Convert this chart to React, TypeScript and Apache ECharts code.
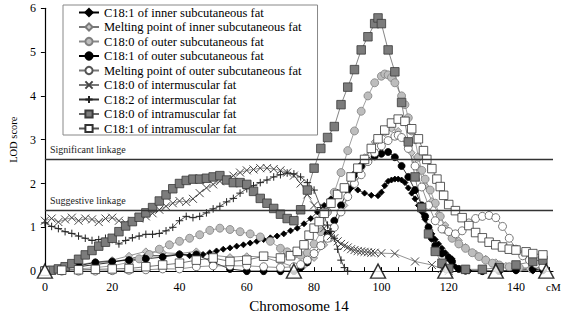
import React, { useEffect, useRef } from "react";
import * as echarts from "echarts";

const FONT = "'Liberation Serif', 'Times New Roman', serif";

// ---- names ----
const seriesNames = [
  "C18:1 of inner subcutaneous fat",
  "Melting point of inner subcutaneous fat",
  "C18:0 of outer subcutaneous fat",
  "C18:1 of outer subcutaneous fat",
  "Melting point of outer subcutaneous fat",
  "C18:0 of intermuscular fat",
  "C18:2 of intermuscular fat",
  "C18:0 of intramuscular fat",
  "C18:1 of intramuscular fat",
];

// ---- thresholds ----
const significantLOD = 2.55;
const suggestiveLOD = 1.39;

// ---- flanking markers (cM) ----
const markerPositions = [0, 74, 99, 119, 134, 149];

// ---- x-axis tick labels ----
const xTickLabels = [0, 20, 40, 60, 80, 100, 120, 140];

// 1. C18:1 inner subcutaneous (black diamonds)
const posInnerC181 = [0, 5, 10, 15, 20, 25, 30, 35, 40, 43, 45, 47, 49, 51, 53, 55, 57, 59, 61, 63, 65, 67, 69, 71, 73, 75, 77, 79, 81, 83, 85, 87, 89, 91, 93, 95, 97, 99, 100, 101, 102, 103, 104, 105, 106, 107, 108, 109, 110, 111, 112, 113, 114, 115, 116, 117, 118, 119, 120, 121, 122, 124, 126, 130, 135, 140, 145, 148];
const lodInnerC181 = [0, 0.05, 0.1, 0.15, 0.2, 0.28, 0.35, 0.35, 0.38, 0.35, 0.32, 0.38, 0.42, 0.46, 0.5, 0.53, 0.57, 0.6, 0.64, 0.68, 0.72, 0.76, 0.8, 0.85, 0.92, 0.98, 1.08, 1.2, 1.35, 1.5, 1.65, 1.8, 1.88, 1.9, 1.85, 1.78, 1.73, 1.72, 1.8, 1.95, 2.05, 2.08, 2.1, 2.1, 2.08, 2.02, 1.9, 1.78, 1.65, 1.5, 1.35, 1.18, 1.0, 0.85, 0.72, 0.62, 0.52, 0.42, 0.34, 0.28, 0.1, 0.02, 0, 0, 0, 0, 0, 0];

// 2. Melting point inner subcutaneous (grey diamonds)
const posInnerMelt = [0, 5, 10, 15, 20, 25, 30, 35, 40, 45, 50, 55, 60, 65, 70, 74, 77, 80, 83, 86, 89, 92, 95, 98, 101, 103, 105, 107, 109, 111, 113, 115, 117, 119, 121, 123, 125, 128, 131, 134, 137, 140, 144, 148];
const lodInnerMelt = [0, 0.08, 0.15, 0.2, 0.25, 0.35, 0.45, 0.42, 0.4, 0.45, 0.36, 0.32, 0.34, 0.32, 0.2, 0.1, 0.12, 0.3, 0.6, 1.0, 1.5, 2.1, 2.6, 2.95, 3.15, 3.25, 3.2, 3.0, 2.7, 2.35, 1.95, 1.6, 1.3, 1.05, 0.85, 0.7, 0.55, 0.4, 0.28, 0.2, 0.12, 0.08, 0.05, 0.03];

// 3. C18:0 outer subcutaneous (grey circles)
const posOuterC180 = [0, 5, 10, 15, 20, 25, 28, 31, 34, 37, 40, 43, 46, 49, 52, 55, 58, 61, 64, 67, 70, 72, 74, 76, 78, 80, 82, 84, 86, 88, 90, 92, 94, 96, 98, 100, 101, 102, 103, 104, 106, 107, 108, 109, 110, 111, 112, 113, 114.5, 116, 117.5, 119, 121, 123, 125, 127, 129, 131, 133, 135, 138, 141, 145, 148];
const lodOuterC180 = [0, 0.02, 0.05, 0.08, 0.12, 0.2, 0.28, 0.38, 0.5, 0.6, 0.68, 0.75, 0.83, 0.93, 0.98, 0.95, 0.9, 0.85, 0.78, 0.68, 0.52, 0.44, 0.38, 0.36, 0.42, 0.62, 0.9, 1.35, 1.8, 2.25, 2.75, 3.2, 3.65, 4.0, 4.3, 4.45, 4.5, 4.48, 4.42, 4.3, 4.0, 3.8, 3.5, 3.2, 3.0, 2.6, 2.3, 2.1, 1.85, 1.55, 1.25, 0.95, 0.75, 0.62, 0.52, 0.42, 0.33, 0.25, 0.18, 0.14, 0.1, 0.08, 0.07, 0.06];

// 4. C18:1 outer subcutaneous (black circles)
const posOuterC181 = [0, 5, 10, 15, 20, 25, 30, 35, 40, 45, 50, 55, 60, 65, 70, 74, 76, 78, 80, 82, 84, 86, 88, 90, 92, 94, 96, 98, 100, 102, 104, 106, 108, 110, 112, 113, 114, 115, 116, 118, 120, 121, 123, 125, 130, 135, 140, 145, 148];
const lodOuterC181 = [0, 0.05, 0.12, 0.2, 0.22, 0.25, 0.28, 0.32, 0.38, 0.38, 0.2, 0.05, 0, 0, 0, 0, 0.08, 0.2, 0.4, 0.58, 0.85, 1.15, 1.5, 1.85, 2.2, 2.4, 2.52, 2.62, 2.68, 2.72, 2.6, 2.4, 2.15, 1.85, 1.5, 1.25, 1.0, 0.75, 0.58, 0.4, 0.3, 0.22, 0.05, 0.01, 0, 0, 0.02, 0.04, 0.02];

// 5. Melting point outer subcutaneous (white circles)
const posOuterMelt = [0, 5, 10, 15, 20, 25, 30, 35, 40, 45, 50, 55, 60, 65, 70, 74, 76, 78, 80, 82, 84, 86, 88, 90, 92, 94, 96, 98, 100, 102, 104, 105, 106, 108, 110, 112, 114, 116, 118, 120, 122, 124, 126, 128, 130, 132, 134, 136, 138, 140, 142, 144, 146, 148];
const lodOuterMelt = [0, 0, 0, 0, 0.01, 0.02, 0.03, 0.05, 0.05, 0.1, 0.12, 0.12, 0.12, 0.1, 0.08, 0.1, 0.15, 0.25, 0.4, 0.58, 0.75, 1.0, 1.35, 1.7, 2.0, 2.2, 2.5, 2.7, 2.86, 2.98, 3.08, 3.1, 3.05, 2.8, 2.4, 1.92, 1.5, 1.15, 0.96, 0.9, 0.85, 0.92, 1.1, 1.2, 1.25, 1.27, 1.22, 1.02, 0.75, 0.5, 0.35, 0.25, 0.16, 0.1];

// 6. C18:0 intermuscular (crosses)
const posInterC180 = [0, 2, 4, 6, 8, 10, 12, 14, 16, 18, 20, 22, 24, 26, 28, 30, 32, 34, 36, 38, 40, 42, 44, 46, 48, 50, 52, 54, 56, 58, 60, 62, 64, 66, 68, 70, 72, 74, 76, 78, 80, 82, 83, 84, 85, 86, 87, 88, 89, 90, 91, 92, 93, 94, 95, 96, 97, 98, 100, 104, 110, 115, 118, 120];
const lodInterC180 = [1.15, 1.2, 1.12, 1.18, 1.22, 1.15, 1.2, 1.18, 1.12, 1.2, 1.22, 1.15, 1.1, 1.15, 1.2, 1.25, 1.32, 1.4, 1.48, 1.55, 1.6, 1.58, 1.65, 1.78, 1.9, 1.98, 2.05, 2.1, 2.18, 2.25, 2.3, 2.32, 2.35, 2.35, 2.33, 2.3, 2.25, 2.18, 2.0, 1.75, 1.5, 1.15, 0.98, 0.88, 0.8, 0.75, 0.68, 0.62, 0.58, 0.54, 0.5, 0.48, 0.46, 0.45, 0.44, 0.43, 0.42, 0.42, 0.41, 0.4, 0.22, 0.14, 0.05, 0];

// 7. C18:2 intermuscular (plus)
const posInterC182 = [0, 2, 4, 6, 8, 10, 12, 14, 16, 18, 20, 22, 24, 26, 28, 30, 32, 34, 36, 38, 40, 42, 44, 46, 48, 50, 52, 54, 56, 58, 60, 62, 64, 66, 68, 70, 72, 74, 76, 78, 80, 82, 84, 85, 86, 87, 88, 89, 90];
const lodInterC182 = [1.1, 1.02, 0.97, 0.9, 0.86, 0.8, 0.75, 0.7, 0.72, 0.75, 0.72, 0.62, 0.7, 0.76, 0.8, 0.84, 0.84, 0.86, 0.92, 1.0, 1.15, 1.25, 1.22, 1.25, 1.33, 1.42, 1.48, 1.58, 1.66, 1.78, 1.88, 1.95, 2.02, 2.08, 2.15, 2.2, 2.24, 2.22, 2.15, 2.02, 1.85, 1.45, 1.05, 0.9, 0.75, 0.5, 0.25, 0.08, 0];

// 8. C18:0 intramuscular (grey squares)
const posIntraC180 = [0, 2, 4, 6, 8, 10, 12, 14, 16, 18, 20, 22, 24, 26, 28, 30, 32, 34, 36, 38, 40, 42, 44, 46, 48, 50, 52, 54, 56, 58, 60, 62, 64, 66, 68, 70, 72, 74, 76, 78, 80, 82, 84, 86, 88, 90, 92, 94, 96, 98, 99, 100, 102, 104, 106, 108, 110, 112, 114, 116, 118, 120, 125, 130, 135, 140, 145, 148];
const lodIntraC180 = [0, 0.02, 0.05, 0.1, 0.17, 0.27, 0.37, 0.47, 0.57, 0.66, 0.75, 0.9, 1.03, 1.13, 1.23, 1.33, 1.45, 1.6, 1.74, 1.88, 2.0, 2.07, 2.1, 2.1, 2.12, 2.15, 2.18, 2.08, 2.02, 2.02, 1.98, 1.82, 1.66, 1.55, 1.43, 1.3, 1.2, 1.15, 1.4, 1.85, 2.35, 2.8, 3.05, 3.3, 3.8, 4.2, 4.6, 5.05, 5.35, 5.65, 5.78, 5.65, 5.05, 4.55, 3.85, 2.95, 2.15, 1.45, 0.85, 0.45, 0.18, 0.06, 0.04, 0.04, 0.08, 0.14, 0.22, 0.25];

// 9. C18:1 intramuscular (white squares)
const posIntraC181 = [0, 5, 10, 15, 20, 25, 30, 35, 40, 45, 50, 55, 60, 65, 70, 73, 75, 77, 78.5, 80, 81.5, 83, 85, 87, 89, 91, 93, 95, 97, 99, 101, 103, 105, 107, 109, 111, 112.5, 113.5, 115, 116.5, 117.5, 118.5, 120, 122, 124, 126, 128, 130, 132, 134, 136, 138, 140, 143, 145, 148];
const lodIntraC181 = [0, 0.02, 0.03, 0.04, 0.05, 0.06, 0.1, 0.14, 0.18, 0.25, 0.3, 0.22, 0.25, 0.34, 0.3, 0.35, 0.45, 0.6, 0.82, 0.98, 1.13, 1.32, 1.55, 1.75, 1.9, 2.15, 2.35, 2.55, 2.8, 3.02, 3.22, 3.38, 3.47, 3.42, 3.25, 3.02, 2.75, 2.55, 2.34, 2.1, 1.93, 1.73, 1.52, 1.38, 1.22, 1.04, 0.88, 0.76, 0.66, 0.6, 0.55, 0.5, 0.48, 0.44, 0.4, 0.37];

const zip = (xs: number[], ys: number[]) => xs.map((x, i) => [x, ys[i]]);

const CROSS = "path://M0,0L10,10M10,0L0,10";
const PLUS = "path://M5,0L5,10M0,5L10,5";

export default function App() {
  const ref = useRef<HTMLDivElement>(null);
  useEffect(() => {
    if (!ref.current) return;
    const chart = echarts.init(ref.current, undefined, { renderer: "svg" });

    const mk = (
      i: number,
      pos: number[],
      lod: number[],
      symbol: string,
      size: number,
      fill: string,
      border: string,
      lineColor: string,
      bw = 0.8
    ): any => ({
      type: "line",
      name: seriesNames[i],
      data: zip(pos, lod),
      symbol,
      symbolSize: size,
      showSymbol: true,
      showAllSymbol: true,
      lineStyle: { color: lineColor, width: 0.8 },
      itemStyle: { color: fill, borderColor: border, borderWidth: bw },
      emphasis: { disabled: true },
    });

    const series: any[] = [
      mk(0, posInnerC181, lodInnerC181, "diamond", 6, "#000", "#000", "#000"),
      mk(1, posInnerMelt, lodInnerMelt, "diamond", 7, "#c8c8c8", "#7a7a7a", "#777"),
      mk(2, posOuterC180, lodOuterC180, "circle", 8, "#bdbdbd", "#808080", "#888"),
      mk(3, posOuterC181, lodOuterC181, "circle", 7, "#000", "#000", "#000"),
      mk(4, posOuterMelt, lodOuterMelt, "circle", 8, "#fff", "#555", "#777"),
      mk(5, posInterC180, lodInterC180, CROSS, 8, "none", "#444", "#777", 1),
      mk(6, posInterC182, lodInterC182, PLUS, 7.5, "none", "#222", "#333", 1),
      mk(7, posIntraC180, lodIntraC180, "rect", 8.5, "#7c7c7c", "#3a3a3a", "#666"),
      mk(8, posIntraC181, lodIntraC181, "rect", 8.5, "#fff", "#333", "#555"),
    ];

    series[0].markLine = {
      silent: true,
      symbol: "none",
      animation: false,
      lineStyle: { color: "#333", width: 1.3, type: "solid" },
      label: {
        position: "insideStartTop",
        fontFamily: FONT,
        fontSize: 10,
        color: "#222",
        distance: 5,
      },
      data: [
        { yAxis: significantLOD, label: { formatter: "Significant linkage" } },
        { yAxis: suggestiveLOD, label: { formatter: "Suggestive linkage" } },
      ],
    };

    series.push({
      type: "scatter",
      name: "markers",
      data: markerPositions.map((p) => [p, 0]),
      symbol: "triangle",
      symbolSize: [15, 14],
      clip: false,
      z: 10,
      itemStyle: { color: "#fff", borderColor: "#000", borderWidth: 1.4 },
      emphasis: { disabled: true },
    });

    chart.setOption({
      animation: false,
      backgroundColor: "#fff",
      grid: { left: 43, right: 8, top: 8.3, bottom: 44.7, containLabel: false },
      legend: {
        data: seriesNames,
        orient: "vertical",
        left: 63,
        top: 5,
        padding: [1, 16, 0, 15],
        itemWidth: 20,
        itemHeight: 9,
        itemGap: 1.5,
        borderColor: "#888",
        borderWidth: 1,
        backgroundColor: "#fff",
        textStyle: { fontFamily: FONT, fontSize: 12.5, color: "#000" },
        selectedMode: false,
        z: 20,
      },
      xAxis: {
        type: "value",
        min: 0,
        max: 151,
        interval: 5,
        name: "Chromosome 14",
        nameLocation: "middle",
        nameGap: 26,
        nameTextStyle: { fontFamily: FONT, fontSize: 15, color: "#000" },
        axisLine: { show: true, onZero: false, lineStyle: { color: "#000", width: 1.2 } },
        axisTick: { show: true, inside: true, length: 4, lineStyle: { color: "#000" } },
        axisLabel: {
          fontFamily: FONT,
          fontSize: 12,
          color: "#000",
          margin: 10,
          showMaxLabel: false,
          formatter: (v: number) => (xTickLabels.indexOf(v) >= 0 ? String(v) : ""),
        },
        splitLine: { show: false },
      },
      yAxis: {
        type: "value",
        min: 0,
        max: 6,
        interval: 1,
        name: "LOD score",
        nameLocation: "middle",
        nameGap: 25,
        nameTextStyle: { fontFamily: FONT, fontSize: 10.5, color: "#000" },
        axisLine: { show: true, lineStyle: { color: "#000", width: 1.2 } },
        axisTick: { show: true, inside: false, length: 4, lineStyle: { color: "#000" } },
        axisLabel: { fontFamily: FONT, fontSize: 12, color: "#000", margin: 9 },
        splitLine: { show: false },
      },
      graphic: [
        {
          type: "text",
          left: 546,
          top: 281,
          style: { text: "cM", fontFamily: FONT, fontSize: 11, fill: "#000" },
        },
      ],
      series,
    });

    return () => chart.dispose();
  }, []);

  return (
    <div
      ref={ref}
      style={{ position: "fixed", left: 0, top: 0, width: 561, height: 318 }}
    />
  );
}
